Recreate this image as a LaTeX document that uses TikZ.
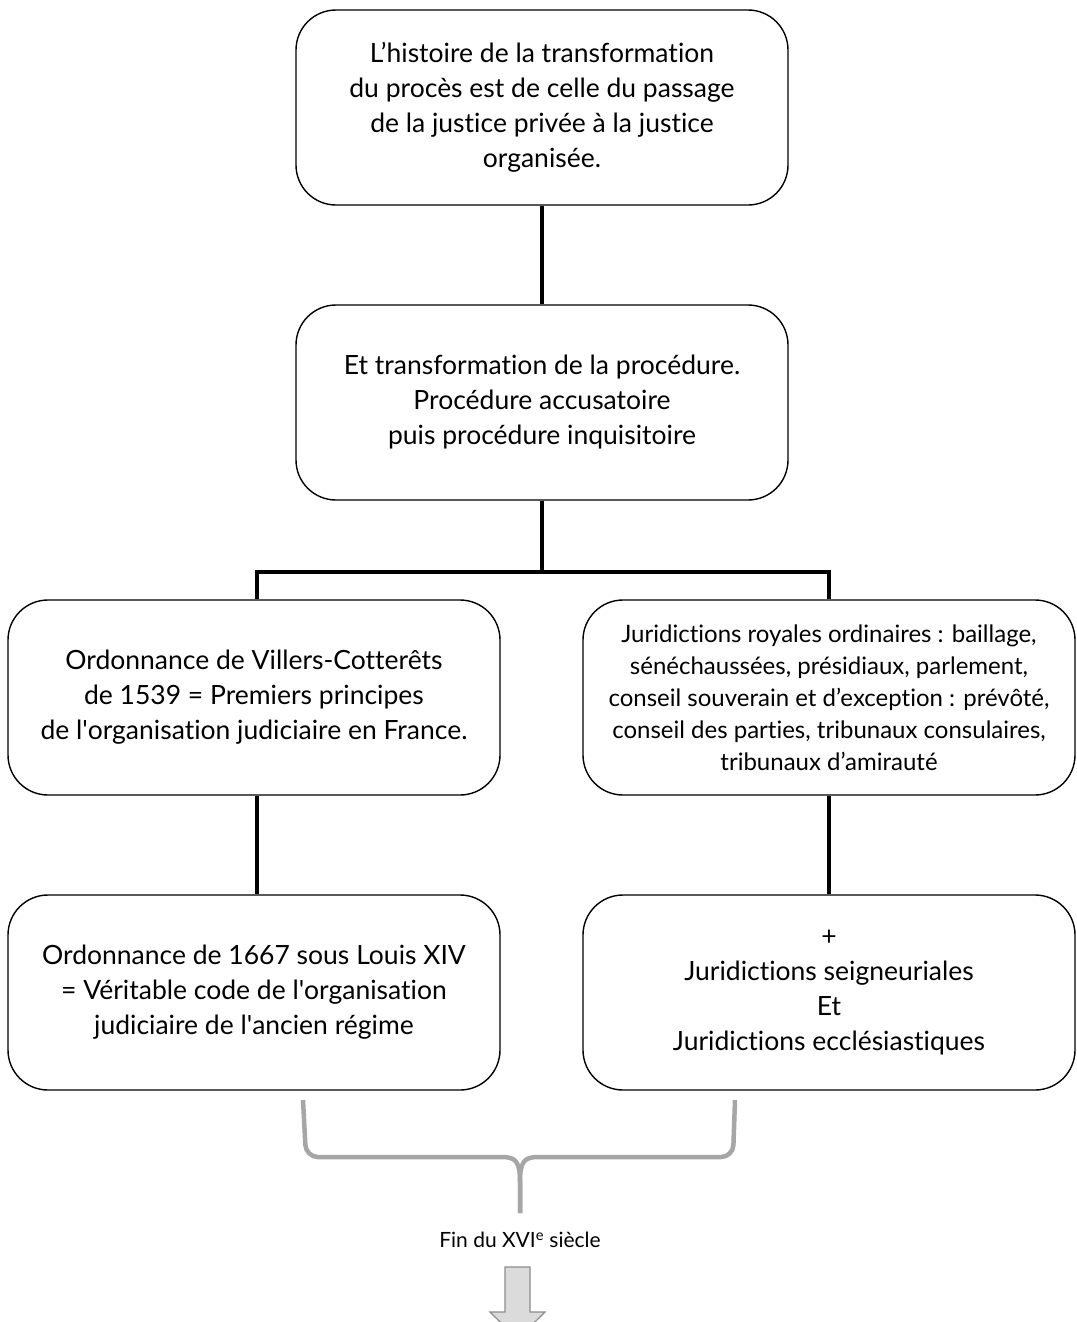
\documentclass[tikz,border=0pt]{standalone}
\usepackage{fontspec}
\setmainfont{Lato}[Ligatures={TeX,NoCommon}]
\usepackage{tikz}
\usetikzlibrary{calc, positioning}

\begin{document}
\begin{tikzpicture}[x=1pt, y=-1pt,
    box/.style={draw, line width=1.4pt, rounded corners=40pt, minimum width=492pt,
        minimum height=195pt, align=center, font=\fontsize{26.5}{35}\selectfont},
    link/.style={line width=4.5pt},
    bracket/.style={draw=black!35, line width=4.5pt}]
    \useasboundingbox (0, 0) rectangle (1076, 1322);
    \clip (0, 0) rectangle (1076, 1322);
    \node[box] (histoire) at (542, 107.5) {L’histoire de la transformation\\du procès est de celle du passage\\de la justice privée à la justice\\organisée.};
    \node[box] (procedure) at (542, 402.5) {Et transformation de la procédure.\\Procédure accusatoire\\puis procédure inquisitoire};
    \node[box] (villers) at (254, 697.5) {Ordonnance de Villers-Cotterêts\\de 1539 = Premiers principes\\de l\textquotesingle organisation judiciaire en France.};
    \node[box, font=\fontsize{24}{32}\selectfont] (royales) at (829, 697.5) {Juridictions royales ordinaires : baillage,\\sénéchaussées, présidiaux, parlement,\\conseil souverain et d’exception : prévôté,\\conseil des parties, tribunaux consulaires,\\tribunaux d’amirauté};
    \node[box] (louis) at (254, 992.5) {Ordonnance de 1667 sous Louis XIV\\= Véritable code de l\textquotesingle organisation\\judiciaire de l\textquotesingle ancien régime};
    \node[box] (seigneur) at (829, 992.5) {+\\Juridictions seigneuriales\\Et\\Juridictions ecclésiastiques};
    \node[font=\fontsize{21}{24}\selectfont] (fin) at (520, 1240) {Fin du XVI\textsuperscript{e} siècle};
    \coordinate (split) at (542, 572);
    \coordinate (tip) at (520, 1213);
    \draw[link] (histoire) -- (procedure);
    \draw[link] (procedure) -- (split);
    \draw[link] (split) -| ([xshift=3pt]villers.north);
    \draw[link] (split) -| (royales.north);
    \draw[link] ([xshift=3pt]villers.south) -- ([xshift=3pt]louis.north);
    \draw[link] (royales) -- (seigneur);
    \draw[bracket] (303, 1100) [rounded corners=12pt] -- (306, 1157) [sharp corners] -- (502, 1157)
        .. controls (516, 1157) and (520, 1162) .. (520, 1182) -- (tip);
    \draw[bracket] (735, 1100) [rounded corners=12pt] -- (733, 1157) [sharp corners] -- (538, 1157)
        .. controls (524, 1157) and (520, 1162) .. (520, 1182) -- (tip);
    \draw[draw=black!45, fill=black!14, line width=1.2pt] (505, 1267) -- (530, 1267) -- (530, 1312)
        -- (545, 1312) -- (517.5, 1339) -- (490, 1312) -- (505, 1312) -- cycle;
\end{tikzpicture}
\end{document}
